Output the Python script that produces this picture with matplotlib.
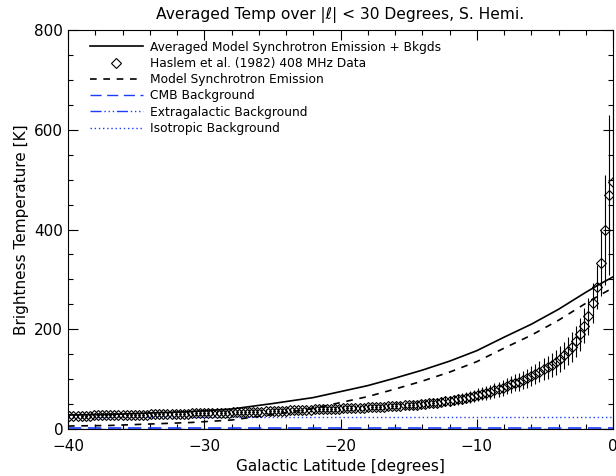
import numpy as np
import matplotlib
matplotlib.use("Agg")
import matplotlib.pyplot as plt
from matplotlib.ticker import MultipleLocator
from matplotlib.lines import Line2D

# Haslam 408 MHz data (latitude bins, degrees)
lat_data = np.round(-39.9 + 0.3 * np.arange(134), 1)
temp_data = [
    27, 27, 27, 27, 27, 27, 28, 28, 28, 28,
    28, 28, 28, 28, 29, 29, 29, 29, 29, 29,
    30, 30, 30, 30, 30, 31, 31, 31, 31, 31,
    32, 32, 32, 32, 32, 33, 33, 33, 33, 33,
    34, 34, 34, 34, 35, 35, 35, 35, 36, 36,
    37, 37, 37, 37, 38, 38, 38, 38, 39, 39,
    40, 40, 40, 40, 41, 41, 41, 42, 42, 42,
    43, 43, 43, 44, 44, 45, 45, 45, 46, 46,
    47, 47, 48, 48, 49, 49, 50, 51, 52, 53,
    53, 55, 56, 57, 58, 60, 61, 63, 65, 67,
    69, 71, 73, 75, 78, 80, 83, 87, 90, 93,
    95, 98, 102, 106, 110, 115, 120, 124, 129, 134,
    140, 148, 156, 165, 176, 190, 207, 226, 252, 285,
    333, 399, 469, 495,
]
temp_err = [
    4, 4, 4, 4, 4, 4, 4, 4, 4, 4,
    4, 4, 4, 4, 4, 4, 4, 4, 4, 4,
    4, 4, 4, 4, 4, 4, 4, 4, 4, 4,
    5, 5, 5, 5, 5, 5, 5, 5, 5, 5,
    5, 5, 5, 5, 5, 5, 5, 5, 5, 5,
    5, 5, 5, 5, 5, 5, 5, 5, 5, 5,
    6, 6, 6, 6, 6, 6, 6, 6, 6, 6,
    6, 6, 6, 6, 6, 6, 6, 6, 6, 6,
    7, 7, 7, 7, 8, 8, 8, 8, 8, 9,
    9, 9, 10, 10, 10, 11, 11, 11, 12, 12,
    13, 13, 14, 14, 15, 15, 16, 16, 17, 17,
    18, 18, 19, 20, 20, 21, 22, 23, 24, 25,
    26, 27, 28, 30, 31, 33, 35, 37, 40, 44,
    66, 110, 160, 150,
]

# Model curves
lat_model = [-40, -37, -34, -31, -28, -25, -22, -20, -18, -16, -14, -12, -10, -8, -6, -4, -2, -1, 0]
temp_total = [28, 29, 32, 35, 40, 51, 63, 75, 87, 102, 118, 136, 157, 184, 210, 240, 274, 290, 305]
temp_sync = [6, 7, 10, 13, 18, 29, 41, 53, 65, 80, 96, 114, 135, 162, 188, 218, 252, 268, 283]
lat_range = [-40, 0]
cmb_level = [2.73, 2.73]
extragal_level = [1.0, 1.0]
iso_level = [24, 24]

labels = [
    "Averaged Model Synchrotron Emission + Bkgds",
    "Haslem et al. (1982) 408 MHz Data",
    "Model Synchrotron Emission",
    "CMB Background",
    "Extragalactic Background",
    "Isotropic Background",
]

plt.rcParams['font.family'] = ['DejaVu Sans']
fig = plt.figure(figsize=(6.16, 4.76), dpi=100)
ax = fig.add_axes([68/616, 47/476, 545/616, 399/476])

blue = '#1a3cff'
ax.plot(lat_range, cmb_level, color=blue, lw=1.2, dashes=(8, 4), clip_on=False)
ax.plot(lat_range, extragal_level, color=blue, lw=1.0, dashes=(8, 2, 1, 2, 1, 2, 1, 2))
ax.plot(lat_range, iso_level, color=blue, lw=1.0, dashes=(1, 2))
ax.plot(lat_model, temp_sync, color='black', lw=1.2, dashes=(4, 4))
ax.plot(lat_model, temp_total, color='black', lw=1.2)
ax.errorbar(lat_data, temp_data, yerr=temp_err, fmt='none', ecolor='black', elinewidth=0.8, capsize=0)
ax.plot(lat_data, temp_data, linestyle='none', marker='D', ms=5, mfc='none', mec='black', mew=0.8)

ax.set_xlim(-40, 0)
ax.set_ylim(0, 800)
ax.xaxis.set_major_locator(MultipleLocator(10))
ax.xaxis.set_minor_locator(MultipleLocator(2))
ax.yaxis.set_major_locator(MultipleLocator(200))
ax.yaxis.set_minor_locator(MultipleLocator(50))
ax.tick_params(which='both', direction='in', top=True, right=True, labelsize=11, width=0.8)
ax.tick_params(which='major', length=7)
ax.tick_params(which='minor', length=3.5)
ax.tick_params(axis='x', which='major', pad=7)
for s in ax.spines.values():
    s.set_linewidth(0.8)

ax.set_xlabel("Galactic Latitude [degrees]", fontsize=11, labelpad=4)
ax.set_ylabel("Brightness Temperature [K]", fontsize=11, labelpad=4)
ax.set_title("Averaged Temp over |ℓ| < 30 Degrees, S. Hemi.", fontsize=11.2, pad=8)

handles = [
    Line2D([], [], color='black', lw=1.2),
    Line2D([], [], linestyle='none', marker='D', ms=5, mfc='none', mec='black', mew=0.8),
    Line2D([], [], color='black', lw=1.2, dashes=(4, 4)),
    Line2D([], [], color=blue, lw=1.0, dashes=(8, 4)),
    Line2D([], [], color=blue, lw=1.0, dashes=(8, 2, 1, 2, 1, 2, 1, 2)),
    Line2D([], [], color=blue, lw=1.0, dashes=(1, 2)),
]
ax.legend(handles, labels, loc='upper left', bbox_to_anchor=(0.025, 0.995), frameon=False,
          fontsize=8.8, handlelength=4.3, handletextpad=0.6, labelspacing=0.27, borderaxespad=0.3)

fig.savefig("out.png", dpi=100)
